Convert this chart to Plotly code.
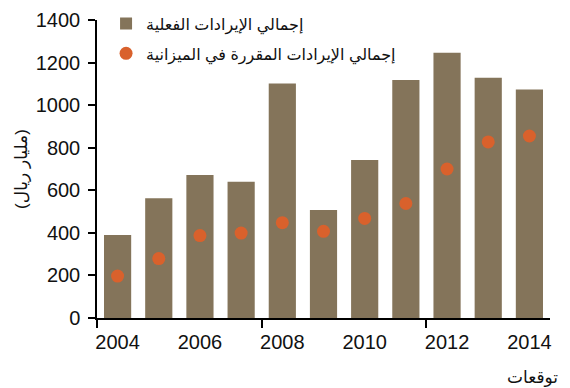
import plotly.graph_objects as go

years = [2004, 2005, 2006, 2007, 2008, 2009, 2010, 2011, 2012, 2013, 2014]
actual_revenue = [390, 562, 672, 640, 1102, 507, 742, 1118, 1246, 1129, 1074]
budget_revenue = [197, 279, 387, 399, 448, 407, 468, 538, 700, 827, 855]
tick_years = [2004, 2006, 2008, 2010, 2012, 2014]
tick_labels = ["2004", "2006", "2008", "2010", "2012", "2014"]
forecast_year = 2014
forecast_label = "توقعات"
y_ticks = [0, 200, 400, 600, 800, 1000, 1200, 1400]

name_actual = "إجمالي الإيرادات الفعلية"
name_budget = "إجمالي الإيرادات المقررة في الميزانية"

fig = go.Figure()
fig.add_trace(go.Bar(
    x=years, y=actual_revenue, name=name_actual, legendgroup="actual",
    marker=dict(color="#84745a", line=dict(width=0)),
))
fig.add_trace(go.Scatter(
    x=years, y=budget_revenue, name=name_budget, mode="markers", legendgroup="budget",
    marker=dict(color="#d9612c", size=13, line=dict(width=0)),
))

font_family = "Liberation Sans, Arial, DejaVu Sans, sans-serif"

fig.add_annotation(
    x=forecast_year, xref="x", y=0, yref="paper",
    yanchor="top", yshift=-48, xshift=3, showarrow=False,
    text=forecast_label, font=dict(size=17, family=font_family, color="#111"),
)

fig.update_layout(
    width=570, height=388,
    margin=dict(l=89, r=28, t=12, b=78, autoexpand=False),
    paper_bgcolor="white", plot_bgcolor="white",
    bargap=0.34,
    showlegend=True,
    legend=dict(
        xref="paper", yref="paper",
        x=0.02, y=1.045, xanchor="left", yanchor="top",
        bgcolor="rgba(0,0,0,0)",
        font=dict(family=font_family, size=16, color="#111"),
        tracegroupgap=6, itemwidth=30,
    ),
    font=dict(family=font_family, color="#111"),
    xaxis=dict(
        range=[2003.5, 2014.5], automargin=False,
        tickmode="array", tickvals=tick_years, ticktext=tick_labels,
        ticks="", showgrid=False, zeroline=False,
        showline=True, linecolor="black", linewidth=1.5,
        ticklabelstandoff=5,
        tickfont=dict(size=20, family=font_family, color="#111"),
        minor=dict(tickvals=[2003.5, 2007.5, 2011.5], ticks="outside",
                   ticklen=8, tickwidth=1.5, tickcolor="black", showgrid=False),
    ),
    yaxis=dict(
        range=[0, 1400], automargin=False,
        tickmode="array", tickvals=y_ticks,
        ticks="outside", ticklen=7, tickwidth=1.5, tickcolor="black",
        ticklabelstandoff=4,
        showgrid=False, zeroline=False,
        showline=True, linecolor="black", linewidth=1.5,
        tickfont=dict(size=20, family=font_family, color="#111"),
        title=dict(text="(مليار ريال)", font=dict(size=17, family=font_family, color="#111"), standoff=4),
    ),
)

fig.write_html("out.html")
